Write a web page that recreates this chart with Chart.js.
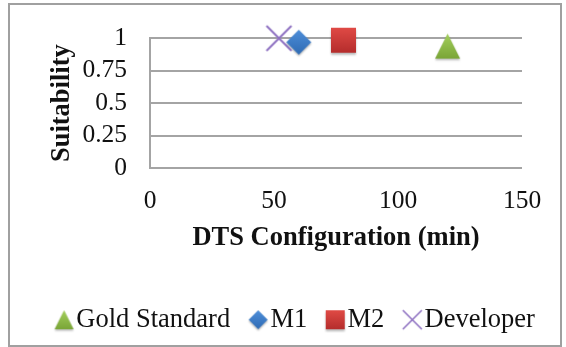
<!DOCTYPE html>
<html>
<head>
<meta charset="utf-8">
<title>DTS Configuration vs Suitability</title>
<script src="https://cdn.jsdelivr.net/npm/chart.js@4.4.1/dist/chart.umd.min.js"></script>
<style>
  html, body { margin: 0; padding: 0; background: #ffffff; }
  #wrap { position: relative; width: 566px; height: 347px; }
</style>
</head>
<body>
<div id="wrap"><canvas id="chart"></canvas></div>
<script>
// Series and their values
const seriesNames = ['Gold Standard', 'M1', 'M2', 'Developer'];
const configMinutes = [120, 60, 78, 52];
const suitability = [0.94, 0.97, 0.985, 1.0];

// Axis ticks
const xTicks = [0, 50, 100, 150];
const yTicks = [0, 0.25, 0.5, 0.75, 1];

// Marker look for each series
const markerShapes = ['triangle', 'diamond', 'square', 'cross'];
const markerColors = [
  ['#a3cf5c', '#7aa537'],
  ['#4d8ed9', '#2f6bb4'],
  ['#e04a45', '#b52d2c'],
  ['#8f72c2', '#8f72c2']
];

const FONT = "'Liberation Serif', 'Times New Roman', serif";
const GRID = '#a4a4a4';

// Builds a marker bitmap; shift moves the glyph right of the bitmap centre
function makeMarker(shape, size, colors, shift) {
  const pad = 4;
  const d = shift || 0;
  const c = document.createElement('canvas');
  c.width = size + pad * 2 + d * 2;
  c.height = size + pad * 2;
  const g = c.getContext('2d');
  const ox = pad + d * 2, oy = pad, s = size;
  g.save();
  if (shape === 'cross') {
    g.strokeStyle = colors[0];
    g.lineWidth = size > 20 ? 2 : 1.6;
    g.beginPath();
    g.moveTo(ox, oy); g.lineTo(ox + s, oy + s);
    g.moveTo(ox + s, oy); g.lineTo(ox, oy + s);
    g.stroke();
    g.restore();
    return c;
  }
  g.shadowColor = 'rgba(0,0,0,0.28)';
  g.shadowBlur = 2;
  g.shadowOffsetY = 1.5;
  const grad = g.createLinearGradient(0, oy, 0, oy + s);
  grad.addColorStop(0, colors[0]);
  grad.addColorStop(1, colors[1]);
  g.fillStyle = grad;
  g.beginPath();
  if (shape === 'triangle') {
    g.moveTo(ox + s / 2, oy); g.lineTo(ox + s, oy + s); g.lineTo(ox, oy + s);
  } else if (shape === 'diamond') {
    g.moveTo(ox + s / 2, oy); g.lineTo(ox + s, oy + s / 2);
    g.lineTo(ox + s / 2, oy + s); g.lineTo(ox, oy + s / 2);
  } else {
    g.rect(ox, oy, s, s);
  }
  g.closePath();
  g.fill();
  g.restore();
  return c;
}

const plotMarkers = markerShapes.map((sh, i) => makeMarker(sh, 25, markerColors[i], 0));
const legendMarkers = markerShapes.map((sh, i) => makeMarker(sh, 19, markerColors[i], 2));

const datasets = seriesNames.map((name, i) => ({
  label: name,
  data: [{ x: configMinutes[i], y: suitability[i] }],
  pointStyle: plotMarkers[i],
  pointRadius: 12,
  pointHoverRadius: 12,
  backgroundColor: markerColors[i][0],
  borderColor: markerColors[i][0],
  showLine: false,
  clip: false
}));

// Outer frame of the chart
const framePlugin = {
  id: 'frame',
  beforeDraw(chart) {
    const ctx = chart.ctx;
    ctx.save();
    ctx.fillStyle = '#ffffff';
    ctx.fillRect(0, 0, chart.width, chart.height);
    ctx.strokeStyle = '#a0a0a0';
    ctx.lineWidth = 2;
    ctx.strokeRect(9, 4, 552, 342);
    ctx.restore();
  }
};

new Chart(document.getElementById('chart'), {
  type: 'scatter',
  data: { datasets },
  plugins: [framePlugin],
  options: {
    responsive: true,
    maintainAspectRatio: false,
    animation: false,
    events: [],
    layout: { padding: { left: 33, right: 3, top: 33, bottom: 4 } },
    scales: {
      x: {
        type: 'linear',
        min: xTicks[0],
        max: xTicks[xTicks.length - 1],
        afterBuildTicks: (scale) => { scale.ticks = xTicks.map(v => ({ value: v })); },
        afterFit: (scale) => { scale.height = 113.5; },
        grid: { display: false, drawTicks: false },
        border: { display: false },
        ticks: {
          autoSkip: false,
          padding: 18,
          color: '#111111',
          font: { family: FONT, size: 25.5 },
          maxRotation: 0,
          callback: (v) => String(v)
        },
        title: {
          display: true,
          text: 'DTS Configuration (min)',
          color: '#111111',
          font: { family: FONT, size: 26.5, weight: 'bold' },
          padding: { top: 0, bottom: 27.6 }
        }
      },
      y: {
        type: 'linear',
        min: yTicks[0],
        max: yTicks[yTicks.length - 1],
        afterBuildTicks: (scale) => { scale.ticks = yTicks.map(v => ({ value: v })); },
        afterFit: (scale) => { scale.width = 117; },
        grid: { color: GRID, lineWidth: 2, drawTicks: false },
        border: { display: true, color: GRID, width: 2 },
        ticks: {
          autoSkip: false,
          padding: 23,
          color: '#111111',
          font: { family: FONT, size: 25.5 },
          callback: (v) => String(v)
        },
        title: {
          display: true,
          text: 'Suitability',
          color: '#111111',
          font: { family: FONT, size: 26.5, weight: 'bold' },
          padding: { top: 13, bottom: 0 }
        }
      },
      // empty spacer on the right edge of the plot
      spacer: {
        type: 'linear',
        position: 'right',
        display: true,
        afterFit: (scale) => { scale.width = 41; },
        grid: { display: false, drawTicks: false },
        border: { display: false },
        ticks: { display: false },
        title: { display: false }
      }
    },
    plugins: {
      tooltip: { enabled: false },
      legend: {
        position: 'bottom',
        labels: {
          usePointStyle: true,
          boxWidth: 2,
          padding: 25,
          color: '#111111',
          font: { family: FONT, size: 26.5 },
          generateLabels: (chart) => seriesNames.map((name, i) => ({
            text: name,
            pointStyle: legendMarkers[i],
            fillStyle: markerColors[i][0],
            strokeStyle: markerColors[i][0],
            lineWidth: 0,
            hidden: false,
            datasetIndex: i,
            fontColor: '#111111'
          }))
        }
      }
    }
  }
});
</script>
</body>
</html>
